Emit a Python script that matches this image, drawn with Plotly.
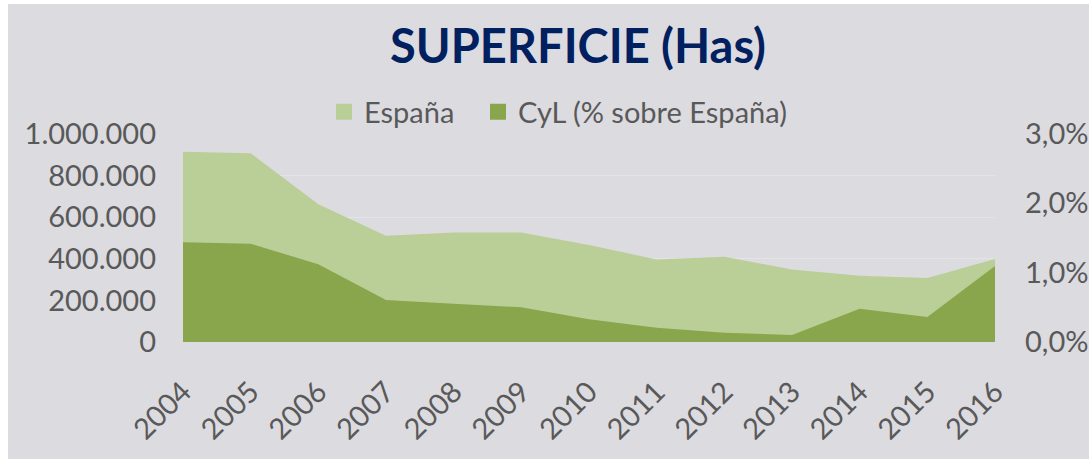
import plotly.graph_objects as go

years = [2004, 2005, 2006, 2007, 2008, 2009, 2010, 2011, 2012, 2013, 2014, 2015, 2016]
espana_has = [915000, 907000, 662000, 511000, 527000, 526000, 466000, 397000, 410000, 349000, 319000, 308000, 399000]
cyl_pct = [0.01438, 0.01418, 0.0112, 0.00606, 0.00553, 0.0050, 0.00327, 0.00207, 0.00135, 0.0010, 0.0048, 0.0036, 0.01096]
series_names = ["España", "CyL (% sobre España)"]

BG = "#DCDBE0"
LIGHT = "#BACF98"
DARK = "#89A64C"
TXT = "#595959"
FONT = "Lato"
FS = 29

W, H = 1089, 459
L, R, T, B = 183, 94, 134, 117
pw, ph = W - L - R, H - T - B

fig = go.Figure()
fig.add_trace(go.Scatter(x=years, y=espana_has, name=series_names[0], mode="lines",
                         line=dict(width=0, color=LIGHT), fill="tozeroy", fillcolor=LIGHT,
                         yaxis="y", showlegend=False))
fig.add_trace(go.Scatter(x=years, y=cyl_pct, name=series_names[1], mode="lines",
                         line=dict(width=0, color=DARK), fill="tozeroy", fillcolor=DARK,
                         yaxis="y2", showlegend=False))
# legend entries (square swatches, as in the original), one legend each for exact placement
for nm, col, lg in zip(series_names, [LIGHT, DARK], ["legend", "legend2"]):
    fig.add_trace(go.Scatter(x=[None], y=[None], name=nm, mode="markers",
                             marker=dict(symbol="square", size=17, color=col,
                                         line=dict(width=0)),
                             showlegend=True, legend=lg))

leg_common = dict(orientation="h", xanchor="left", y=(342 - 112) / ph, yanchor="middle",
                  font=dict(size=29, color=TXT, family=FONT), bgcolor="rgba(0,0,0,0)",
                  borderwidth=0)

fig.update_layout(
    width=W, height=H,
    margin=dict(l=L, r=R, t=T, b=B, autoexpand=False),
    paper_bgcolor="white",
    plot_bgcolor=BG,
    separators=",.",
    font=dict(family=FONT, color=TXT, size=FS),
    title=dict(text="<b>SUPERFICIE (Has)</b>", x=578 / W, xref="container", xanchor="center",
               y=1 - 47 / H, yref="container", yanchor="middle",
               font=dict(family=FONT, size=47, color="#002060")),
    showlegend=True,
    legend=dict(x=(324 - L) / pw, **leg_common),
    legend2=dict(x=(478 - L) / pw, **leg_common),
    xaxis=dict(range=[2004, 2016], tickmode="array", tickvals=years,
               ticktext=[str(y) for y in years], tickangle=-45, showgrid=False,
               zeroline=False, showline=False, ticks="", tickfont=dict(size=FS, color=TXT),
               automargin=False, ticklabelstandoff=26),
    yaxis=dict(range=[0, 1000000], dtick=200000, tickformat=",d", showgrid=True,
               gridcolor="#E4E3E6", gridwidth=1, zeroline=False, showline=False,
               ticks="", tickfont=dict(size=FS, color=TXT), ticklabelstandoff=26,
               automargin=False),
    yaxis2=dict(range=[0, 0.03], dtick=0.01, tickformat=".1%", overlaying="y", side="right",
                showgrid=False, zeroline=False, showline=False, ticks="",
                tickfont=dict(size=FS, color=TXT), ticklabelstandoff=29, automargin=False),
    shapes=[dict(type="rect", xref="paper", yref="paper", layer="below",
                 x0=(8 - L) / pw, x1=(W + 5 - L) / pw, y0=(T + ph - H - 5) / ph,
                 y1=(T + ph - 4) / ph, fillcolor=BG, line=dict(width=0))],
)

fig.write_html("out.html", config={"displayModeBar": False},
               post_script="document.body.style.margin='0';document.body.style.overflow='hidden';")
